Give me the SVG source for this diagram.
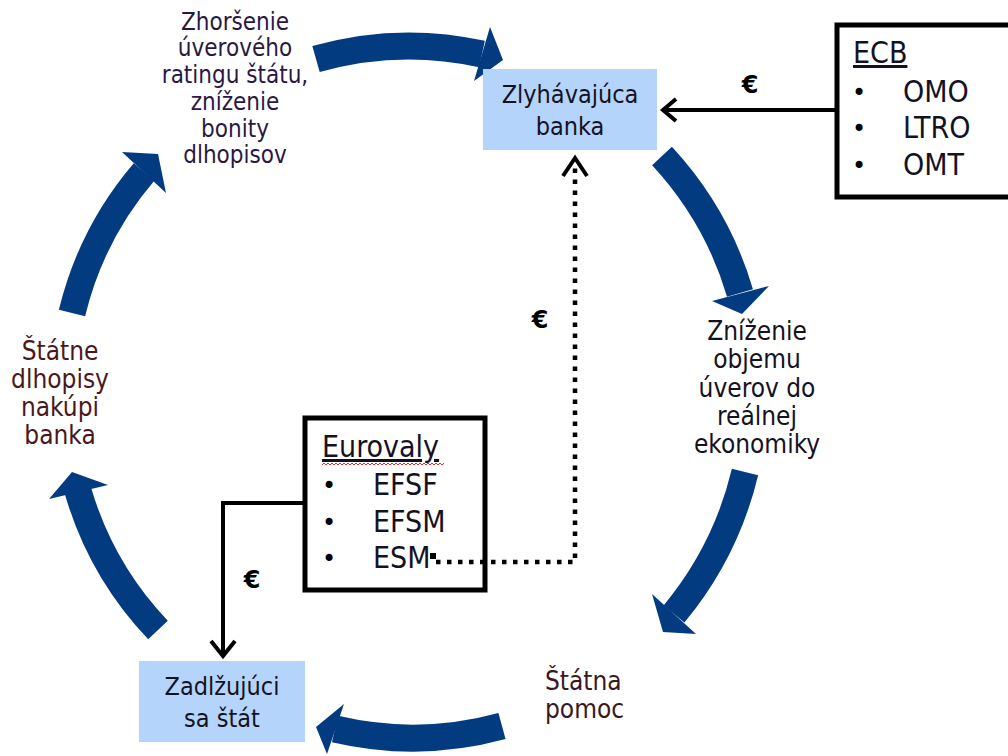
<svg xmlns="http://www.w3.org/2000/svg" width="1008" height="756" viewBox="0 0 1008 756">
<style>
.t{font-family:"DejaVu Sans Condensed","DejaVu Sans",sans-serif;fill:#15121f}
.c{text-anchor:middle}
.body{fill:none;stroke:#033b80;stroke-width:27;stroke-linecap:butt}
.head{fill:#033b80}
.box{fill:#b4d4fc}
.frame{fill:#fff;stroke:#000;stroke-width:5}
.ln{fill:none;stroke:#000;stroke-width:4}
.dot{fill:none;stroke:#000;stroke-width:4.5;stroke-dasharray:4.5 6.5}
.eur{font-family:"DejaVu Sans",sans-serif;font-weight:bold;font-size:24px;fill:#000;text-anchor:middle}
.lst{font-family:"DejaVu Sans Condensed","DejaVu Sans",sans-serif;font-size:30px;fill:#15121f}
.bul{font-family:"DejaVu Sans",sans-serif;font-size:24px;fill:#000}
</style>
<rect width="1008" height="756" fill="#fff"/>

<g id="cycle-arrows">
<path class="body" d="M316,59 A340,340 0 0 1 482,54"/>
<polygon class="head" points="490,27 503,60 474,81"/>
<path class="body" d="M662,156 A345,345 0 0 1 740,293"/>
<polygon class="head" points="712,301 742,314 769,286"/>
<path class="body" d="M745,472 A350,350 0 0 1 674,614"/>
<polygon class="head" points="652,594 663,632 696,634"/>
<path class="body" d="M502,726 A340,340 0 0 1 335,729"/>
<polygon class="head" points="344,704 316,727 327,754"/>
<path class="body" d="M158,630 A340,340 0 0 1 78,491"/>
<polygon class="head" points="49,499 72,472 108,485"/>
<path class="body" d="M72,313 A340,340 0 0 1 144,172"/>
<polygon class="head" points="122,152 158,154 166,193"/>
</g>

<g id="node-bank">
<rect class="box" x="483" y="69" width="174" height="81"/>
<text class="t c" x="570" y="103" font-size="25">Zlyhávajúca</text>
<text class="t c" x="570" y="135" font-size="25">banka</text>
</g>

<g id="node-state">
<rect class="box" x="139" y="661" width="166" height="81"/>
<text class="t c" x="222" y="695" font-size="25">Zadlžujúci</text>
<text class="t c" x="222" y="727" font-size="25">sa štát</text>
</g>

<g id="node-rating">
<text class="t c" x="235" y="30" font-size="24" style="fill:#2a1844">Zhoršenie</text>
<text class="t c" x="235" y="56" font-size="24" style="fill:#2a1844">úverového</text>
<text class="t c" x="235" y="83" font-size="24" style="fill:#2a1844">ratingu štátu,</text>
<text class="t c" x="235" y="110" font-size="24" style="fill:#2a1844">zníženie</text>
<text class="t c" x="235" y="137" font-size="24" style="fill:#2a1844">bonity</text>
<text class="t c" x="235" y="163" font-size="24" style="fill:#2a1844">dlhopisov</text>
</g>

<g id="node-credit">
<text class="t c" x="757" y="340" font-size="26">Zníženie</text>
<text class="t c" x="757" y="368" font-size="26">objemu</text>
<text class="t c" x="757" y="397" font-size="26">úverov do</text>
<text class="t c" x="757" y="425" font-size="26">reálnej</text>
<text class="t c" x="757" y="453" font-size="26">ekonomiky</text>
</g>

<g id="node-aid">
<text class="t" x="545" y="690" font-size="26" style="fill:#3a1820">Štátna</text>
<text class="t" x="545" y="718" font-size="26" style="fill:#3a1820">pomoc</text>
</g>

<g id="node-bonds">
<text class="t c" x="60" y="360" font-size="26" style="fill:#4a181c">Štátne</text>
<text class="t c" x="60" y="388" font-size="26" style="fill:#4a181c">dlhopisy</text>
<text class="t c" x="60" y="416" font-size="26" style="fill:#4a181c">nakúpi</text>
<text class="t c" x="60" y="444" font-size="26" style="fill:#4a181c">banka</text>
</g>

<g id="node-ecb">
<rect class="frame" x="837" y="25" width="200" height="172"/>
<text class="lst" x="853" y="63" text-decoration="underline">ECB</text>
<text class="bul" x="852" y="101">•</text>
<text class="lst" x="903" y="102">OMO</text>
<text class="bul" x="852" y="137">•</text>
<text class="lst" x="903" y="138">LTRO</text>
<text class="bul" x="852" y="174">•</text>
<text class="lst" x="903" y="175">OMT</text>
</g>

<g id="node-eurovaly">
<rect class="frame" x="305" y="418" width="180" height="172"/>
<text class="lst" x="322" y="457" text-decoration="underline">Eurovaly</text>
<path d="M322,465 l2,-2 l2,2 l2,-2 l2,2 l2,-2 l2,2 l2,-2 l2,2 l2,-2 l2,2 l2,-2 l2,2 l2,-2 l2,2 l2,-2 l2,2 l2,-2 l2,2 l2,-2 l2,2 l2,-2 l2,2 l2,-2 l2,2 l2,-2 l2,2 l2,-2 l2,2 l2,-2 l2,2 l2,-2 l2,2 l2,-2 l2,2 l2,-2 l2,2 l2,-2 l2,2 l2,-2 l2,2 l2,-2 l2,2 l2,-2 l2,2 l2,-2 l2,2 l2,-2 l2,2 l2,-2 l2,2 l2,-2 l2,2 l2,-2 l2,2 l2,-2 l2,2 l2,-2 l2,2 l2,-2 l2,2 l2,-2" fill="none" stroke="#e03030" stroke-width="1"/>
<text class="bul" x="322" y="494">•</text>
<text class="lst" x="373" y="495">EFSF</text>
<text class="bul" x="322" y="531">•</text>
<text class="lst" x="373" y="532">EFSM</text>
<text class="bul" x="322" y="567">•</text>
<text class="lst" x="373" y="568">ESM</text>
</g>

<g id="connectors">
<line class="ln" x1="835" y1="110" x2="663" y2="110"/>
<polyline class="ln" points="676,99 663,110 676,121"/>
<polyline class="ln" points="305,503 223,503 223,656"/>
<polyline class="ln" points="211,641 223,656 235,641"/>
<path class="dot" d="M436,562 H575 V162"/>
<rect x="430" y="553" width="6" height="6" fill="#000"/>
<polyline class="ln" points="563,176 575,158 587,176"/>
<text class="eur" x="750" y="93">€</text>
<text class="eur" x="252" y="588">€</text>
<text class="eur" x="540" y="328">€</text>
</g>
</svg>
